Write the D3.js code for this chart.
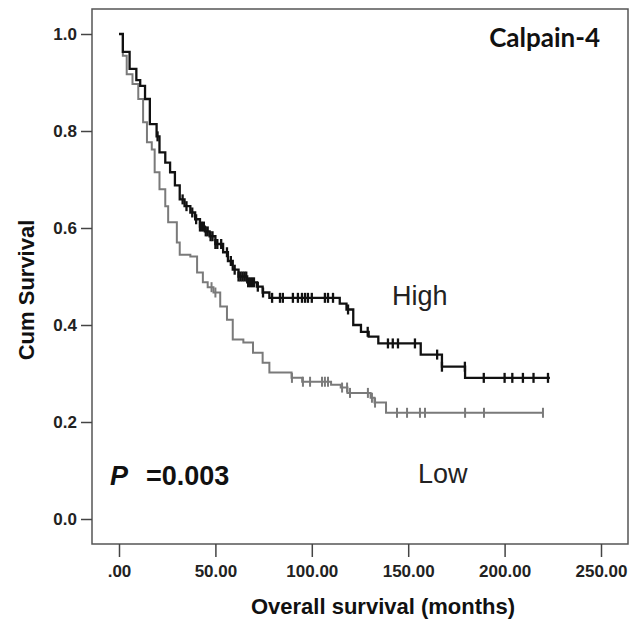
<!DOCTYPE html>
<html><head><meta charset="utf-8">
<script src="https://cdn.jsdelivr.net/npm/d3@7"></script>
<style>body{margin:0;background:#fff}svg{display:block}</style>
</head><body>
<svg id="chart" width="641" height="628"></svg>
<script>
// ---- data ----
const xTicks = [0, 50, 100, 150, 200, 250];
const yTicks = [0, 0.2, 0.4, 0.6, 0.8, 1.0];

const highTimes = [0, 2, 5.5, 9, 11, 13.5, 16, 19.5, 21, 24, 26.5, 29, 31.5, 34, 37, 39.5, 42, 44.5, 47, 50, 54, 56.5, 59, 62, 66.5, 71.5, 74.5, 78, 114.5, 118, 121.5, 125.5, 129.5, 134.5, 156.5, 167.5, 179.5];
const highSurv  = [1.0, 0.963, 0.928, 0.905, 0.893, 0.866, 0.814, 0.789, 0.756, 0.735, 0.715, 0.688, 0.659, 0.645, 0.632, 0.618, 0.603, 0.593, 0.583, 0.567, 0.550, 0.532, 0.514, 0.500, 0.488, 0.479, 0.467, 0.456, 0.444, 0.432, 0.400, 0.386, 0.376, 0.362, 0.339, 0.314, 0.291];
const highEnd = 223.5;
const highCensor = [20, 33, 35, 38, 40, 42, 43, 44, 45, 46, 47.5, 48.5, 50, 51, 53, 56, 58, 60, 62, 63, 64, 65, 66, 67, 68, 69, 70, 72, 74.7, 79.4, 83.5, 85, 90.2, 92.8, 94.9, 96.5, 98, 100, 106.8, 108.4, 111, 118.8, 129, 139.5, 142, 144.7, 153.5, 165, 167.5, 179.4, 189.2, 200, 204, 209.5, 215, 222.5];

const lowTimes = [0, 2, 4, 7, 10, 12.5, 14.5, 17, 18.5, 21, 24, 25.5, 30, 31.5, 37, 40.5, 43.5, 46, 49, 52.5, 56, 59, 64.5, 69.5, 74.5, 78, 89.5, 95, 110, 115, 118.5, 130.5, 132.5, 138.5];
const lowSurv  = [1.0, 0.955, 0.917, 0.897, 0.866, 0.818, 0.777, 0.762, 0.715, 0.680, 0.645, 0.612, 0.570, 0.545, 0.541, 0.508, 0.488, 0.478, 0.467, 0.438, 0.411, 0.370, 0.364, 0.343, 0.322, 0.302, 0.291, 0.283, 0.277, 0.271, 0.260, 0.250, 0.240, 0.219];
const lowEnd = 220;
const lowCensor = [48, 50, 89.7, 95.4, 99.1, 105.3, 106.8, 108.4, 115.7, 118.3, 119.8, 129.1, 131.2, 132.8, 144.2, 149.4, 156.1, 158.7, 179.5, 189.3, 219.9];

// ---- layout ----
const svg = d3.select("#chart");
const frame = {l: 92, r: 628, t: 9, b: 544};
const x = d3.scaleLinear().domain([0, 250]).range([119, 601]);
const y = d3.scaleLinear().domain([0, 1]).range([519, 34]);

svg.append("rect").attr("x", frame.l).attr("y", frame.t)
  .attr("width", frame.r - frame.l).attr("height", frame.b - frame.t)
  .attr("fill", "none").attr("stroke", "#555").attr("stroke-width", 1.5);

const yAxis = svg.append("g").attr("transform", `translate(${frame.l},0)`)
  .call(d3.axisLeft(y).tickValues(yTicks).tickSize(11).tickPadding(4).tickFormat(d3.format(".1f")));
const xAxis = svg.append("g").attr("transform", `translate(0,${frame.b})`)
  .call(d3.axisBottom(x).tickValues(xTicks).tickSize(13).tickPadding(8)
    .tickFormat(d => d === 0 ? ".00" : d3.format(".2f")(d)));
[yAxis, xAxis].forEach(g => {
  g.select(".domain").remove();
  g.selectAll(".tick line").attr("stroke", "#444").attr("stroke-width", 1.5);
  g.selectAll(".tick text").attr("fill", "#222").attr("font-family", "Liberation Sans, Arial, sans-serif")
    .attr("font-size", 17).attr("font-weight", "bold");
});

// ---- curves ----
function stepPts(times, surv, end) {
  const pts = times.map((t, i) => [t, surv[i]]);
  pts.push([end, surv[surv.length - 1]]);
  return pts;
}
function survAt(times, surv, t) {
  let s = surv[0];
  for (let i = 0; i < times.length; i++) if (times[i] <= t) s = surv[i];
  return s;
}
const line = d3.line().x(d => x(d[0])).y(d => y(d[1])).curve(d3.curveStepAfter);

const groups = [
  {times: lowTimes, surv: lowSurv, end: lowEnd, cens: lowCensor, color: "#7a7a7a", w: 2},
  {times: highTimes, surv: highSurv, end: highEnd, cens: highCensor, color: "#111", w: 2.3}
];
groups.forEach(g => {
  svg.append("path").datum(stepPts(g.times, g.surv, g.end)).attr("d", line)
    .attr("fill", "none").attr("stroke", g.color).attr("stroke-width", g.w);
  svg.append("g").selectAll("line").data(g.cens).join("line")
    .attr("x1", d => x(d)).attr("x2", d => x(d))
    .attr("y1", d => y(survAt(g.times, g.surv, d)) - 5)
    .attr("y2", d => y(survAt(g.times, g.surv, d)) + 5)
    .attr("stroke", g.color).attr("stroke-width", g.w);
});

// ---- texts ----
svg.append("text").attr("x", 600).attr("y", 47).attr("text-anchor", "end")
  .attr("font-family", "Lato, Open Sans, sans-serif").attr("font-weight", "bold").attr("font-size", 26)
  .attr("fill", "#111").text("Calpain-4");
svg.append("text").attr("x", 392).attr("y", 305)
  .attr("font-family", "Liberation Sans, Arial, sans-serif").attr("font-size", 27).attr("fill", "#222").text("High");
svg.append("text").attr("x", 418).attr("y", 483)
  .attr("font-family", "Liberation Sans, Arial, sans-serif").attr("font-size", 27).attr("fill", "#222").text("Low");
const p = svg.append("text").attr("x", 110).attr("y", 485)
  .attr("font-family", "Liberation Sans, Arial, sans-serif").attr("font-size", 27).attr("font-weight", "bold").attr("fill", "#111");
p.append("tspan").attr("font-style", "italic").text("P");
p.append("tspan").attr("x", 146).text("=0.003");
svg.append("text").attr("x", 383).attr("y", 614).attr("text-anchor", "middle")
  .attr("font-family", "Liberation Sans, Arial, sans-serif").attr("font-size", 22).attr("font-weight", "bold")
  .attr("fill", "#111").text("Overall survival (months)");
svg.append("text").attr("transform", "translate(34,290) rotate(-90)").attr("text-anchor", "middle")
  .attr("font-family", "Liberation Sans, Arial, sans-serif").attr("font-size", 22).attr("font-weight", "bold")
  .attr("fill", "#111").text("Cum Survival");
</script>
</body></html>
